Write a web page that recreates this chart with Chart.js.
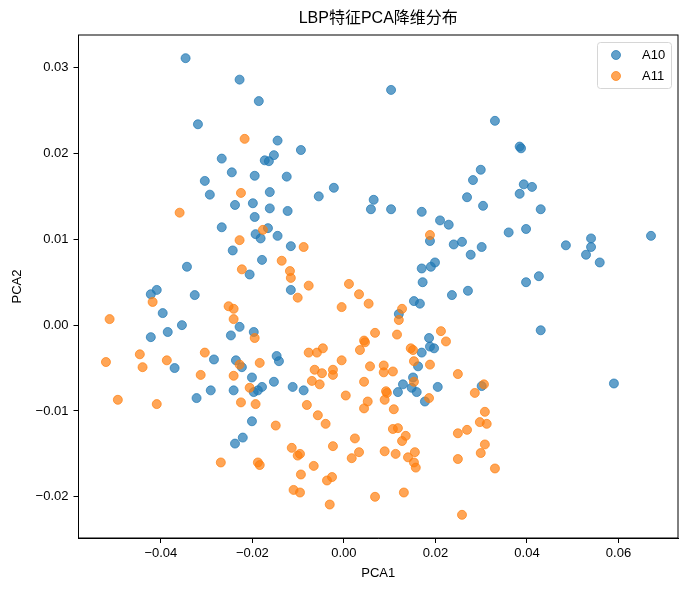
<!DOCTYPE html>
<html lang="zh">
<head>
  <meta charset="UTF-8">
  <title>LBP特征PCA降维分布</title>
  <script src="https://cdn.jsdelivr.net/npm/chart.js"></script>
  <style>
    body { margin: 0; background: #fff; }
    canvas { display: block; }
  </style>
</head>
<body>
  <canvas id="pcaChart" width="692" height="593"></canvas>

  <script>
    // values
    const seriesNames = ['A10', 'A11'];

    const a10X = [-0.0346, -0.0228, -0.0186, -0.0319, -0.0145, -0.0153, -0.0267, -0.0173, -0.0164, -0.0245,
      -0.0195, -0.0304, -0.0162, -0.0293, -0.0238, -0.0199, -0.0162, -0.0195, -0.0267, -0.0166,
      -0.0193, -0.0182, -0.0145, -0.0243, -0.0179, -0.0343, -0.0206, 0.0103, -0.0094, -0.0125,
      -0.0055, -0.0022, -0.0123, 0.0065, 0.0059, 0.0103, 0.0170, 0.0210, 0.0229, 0.0269,
      -0.0116, 0.0188, 0.0240, 0.0258, 0.0277, 0.0170, 0.0190, 0.0199, 0.0172, 0.0330,
      0.0384, 0.0387, 0.0299, 0.0282, 0.0393, 0.0411, 0.0384, 0.0304, 0.0430, 0.0360,
      0.0398, 0.0301, 0.0485, 0.0540, 0.0540, 0.0529, 0.0559, 0.0671, 0.0426, 0.0398,
      -0.0409, -0.0422, -0.0326, -0.0396, -0.0354, -0.0385, -0.0228, -0.0247, -0.0422, -0.0197,
      -0.0284, -0.0370, -0.0236, -0.0223, -0.0147, -0.0142, -0.0201, -0.0153, -0.0241, -0.0291,
      -0.0322, -0.0197, -0.0188, -0.0179, -0.0201, -0.0221, -0.0238, -0.0116, 0.0236, 0.0271,
      0.0153, 0.0166, 0.0120, 0.0186, 0.0188, 0.0197, 0.0170, 0.0162, -0.0112, -0.0088,
      0.0151, 0.0129, 0.0148, 0.0159, 0.0118, 0.0205, 0.0177, 0.0430, 0.0590, 0.0301];
    const a10Y = [0.0311, 0.0286, 0.0261, 0.0234, 0.0215, 0.0198, 0.0194, 0.0192, 0.0191, 0.0178,
      0.0174, 0.0168, 0.0155, 0.0152, 0.0140, 0.0142, 0.0136, 0.0126, 0.0114, 0.0113,
      0.0106, 0.0101, 0.0104, 0.0087, 0.0076, 0.0068, 0.0059, 0.0274, 0.0204, 0.0173,
      0.0150, 0.0160, 0.0133, 0.0146, 0.0135, 0.0135, 0.0132, 0.0122, 0.0117, 0.0149,
      0.0092, 0.0098, 0.0094, 0.0097, 0.0082, 0.0066, 0.0068, 0.0073, 0.0050, 0.0238,
      0.0208, 0.0206, 0.0181, 0.0169, 0.0164, 0.0161, 0.0153, 0.0139, 0.0135, 0.0108,
      0.0112, 0.0091, 0.0093, 0.0101, 0.0091, 0.0082, 0.0073, 0.0104, 0.0057, 0.0050,
      0.0041, 0.0036, 0.0035, 0.0014, 0.0000, -0.0008, -0.0002, -0.0012, -0.0014, -0.0008,
      -0.0040, -0.0050, -0.0041, -0.0049, -0.0036, -0.0042, -0.0061, -0.0066, -0.0076, -0.0076,
      -0.0085, -0.0078, -0.0076, -0.0072, -0.0112, -0.0131, -0.0138, 0.0041, 0.0035, 0.0040,
      0.0028, 0.0025, 0.0013, -0.0015, -0.0025, -0.0027, -0.0032, -0.0048, -0.0072, -0.0076,
      -0.0061, -0.0069, -0.0073, -0.0078, -0.0078, -0.0072, -0.0089, -0.0006, -0.0068, -0.0071];

    const a11X = [-0.0217, -0.0225, -0.0359, -0.0177, -0.0228, -0.0223, -0.0136, -0.0088, 0.0188, -0.0118,
      -0.0116, -0.0077, 0.0011, -0.0418, -0.0252, -0.0241, -0.0512, -0.0241, -0.0195, -0.0446,
      -0.0304, -0.0520, -0.0387, -0.0440, -0.0228, -0.0184, -0.0313, -0.0241, -0.0206, -0.0494,
      -0.0409, -0.0225, -0.0193, -0.0149, -0.0269, -0.0188, -0.0184, -0.0101, 0.0033, 0.0054,
      -0.0005, 0.0127, 0.0120, 0.0068, 0.0116, 0.0044, 0.0046, 0.0035, 0.0212, 0.0223,
      0.0146, 0.0151, 0.0153, 0.0188, -0.0077, -0.0059, -0.0046, -0.0005, 0.0057, 0.0087,
      0.0087, 0.0107, -0.0064, -0.0048, -0.0024, -0.0024, -0.0070, -0.0053, 0.0044, 0.0153,
      0.0092, 0.0094, 0.0004, 0.0052, 0.0089, 0.0044, 0.0109, 0.0186, -0.0081, -0.0057,
      -0.0040, 0.0249, 0.0107, 0.0118, 0.0135, 0.0127, 0.0024, -0.0024, -0.0114, -0.0101,
      -0.0096, 0.0033, 0.0017, 0.0089, 0.0113, 0.0155, 0.0140, 0.0153, 0.0157, 0.0249,
      0.0269, 0.0249, -0.0066, -0.0094, -0.0037, -0.0026, -0.0110, -0.0096, -0.0031, 0.0068,
      0.0131, 0.0258, 0.0306, 0.0286, 0.0308, 0.0297, 0.0312, 0.0308, 0.0299, 0.0330];
    const a11Y = [0.0217, 0.0154, 0.0131, 0.0111, 0.0099, 0.0065, 0.0075, 0.0091, 0.0105, 0.0063,
      0.0055, 0.0046, 0.0048, 0.0027, 0.0022, 0.0019, 0.0007, 0.0007, -0.0015, -0.0034,
      -0.0032, -0.0043, -0.0041, -0.0049, -0.0046, -0.0044, -0.0058, -0.0059, -0.0073, -0.0087,
      -0.0092, -0.0090, -0.0092, -0.0117, -0.0160, -0.0160, -0.0163, 0.0032, 0.0036, 0.0025,
      0.0021, 0.0019, 0.0006, -0.0009, -0.0011, -0.0018, -0.0020, -0.0029, -0.0007, -0.0019,
      -0.0027, -0.0029, -0.0042, -0.0046, -0.0032, -0.0032, -0.0027, -0.0041, -0.0048, -0.0047,
      -0.0055, -0.0054, -0.0052, -0.0056, -0.0052, -0.0058, -0.0065, -0.0069, -0.0066, -0.0066,
      -0.0077, -0.0079, -0.0082, -0.0089, -0.0087, -0.0097, -0.0098, -0.0085, -0.0093, -0.0105,
      -0.0115, -0.0057, -0.0121, -0.0120, -0.0129, -0.0135, -0.0132, -0.0141, -0.0143, -0.0152,
      -0.0150, -0.0148, -0.0155, -0.0147, -0.0150, -0.0148, -0.0154, -0.0160, -0.0166, -0.0126,
      -0.0122, -0.0156, -0.0164, -0.0174, -0.0181, -0.0177, -0.0192, -0.0195, -0.0209, -0.0200,
      -0.0195, -0.0221, -0.0069, -0.0079, -0.0101, -0.0113, -0.0115, -0.0139, -0.0149, -0.0167];

    const xTicks = [-0.04, -0.02, 0.00, 0.02, 0.04, 0.06];
    const yTicks = [-0.02, -0.01, 0.00, 0.01, 0.02, 0.03];
    const xLimits = [-0.0580, 0.0730];
    const yLimits = [-0.0248, 0.0338];

    const FONT = "'Liberation Sans', 'Noto Sans CJK SC', sans-serif";

    function toPoints(xs, ys) {
      return xs.map((x, i) => ({ x: x, y: ys[i] }));
    }

    // matplotlib style labels, with a real minus sign
    function fmtTick(v) {
      const s = Math.abs(v).toFixed(2);
      return v < -1e-9 ? '\u2212' + s : s;
    }

    // axes frame on all four sides + legend box inside the plot, top right
    const frameAndLegend = {
      id: 'frameAndLegend',
      afterDraw(chart) {
        const { ctx, chartArea: a } = chart;
        ctx.save();
        ctx.strokeStyle = '#000';
        ctx.lineWidth = 1;
        ctx.strokeRect(a.left, a.top, a.right - a.left, a.bottom - a.top);

        const w = 74, h = 46;
        const bx = a.right - 7 - w, by = a.top + 7;
        ctx.beginPath();
        ctx.roundRect(bx + 0.5, by + 0.5, w, h, 3);
        ctx.fillStyle = 'rgba(255,255,255,0.8)';
        ctx.fill();
        ctx.strokeStyle = '#d6d6d6';
        ctx.stroke();

        ctx.font = '13px ' + FONT;
        ctx.textBaseline = 'middle';
        ctx.textAlign = 'left';
        chart.data.datasets.forEach((ds, i) => {
          const cy = by + 13 + i * 21;
          ctx.beginPath();
          ctx.arc(bx + 19, cy, 4.5, 0, Math.PI * 2);
          ctx.fillStyle = ds.backgroundColor;
          ctx.fill();
          ctx.strokeStyle = ds.borderColor;
          ctx.stroke();
          ctx.fillStyle = '#000';
          ctx.fillText(ds.label, bx + 45, cy);
        });
        ctx.restore();
      }
    };

    const ctx = document.getElementById('pcaChart').getContext('2d');
    new Chart(ctx, {
      type: 'scatter',
      data: {
        datasets: [{
          label: seriesNames[0],
          data: toPoints(a10X, a10Y),
          backgroundColor: 'rgba(31,119,180,0.7)',
          borderColor: 'rgba(31,119,180,0.7)',
          borderWidth: 1,
          pointRadius: 4.5,
          order: 1
        }, {
          label: seriesNames[1],
          data: toPoints(a11X, a11Y),
          backgroundColor: 'rgba(255,127,14,0.7)',
          borderColor: 'rgba(255,127,14,0.7)',
          borderWidth: 1,
          pointRadius: 4.5,
          order: 0
        }]
      },
      options: {
        responsive: false,
        animation: false,
        layout: { padding: { left: 0, right: 14, top: 0, bottom: 0 } },
        plugins: {
          legend: { display: false },
          tooltip: { enabled: false },
          title: {
            display: true,
            text: 'LBP特征PCA降维分布',
            color: '#000',
            fullSize: false,
            font: { family: FONT, size: 16, weight: 'normal' },
            padding: { top: 9.4, bottom: 6.4 }
          }
        },
        scales: {
          x: {
            type: 'linear',
            min: xLimits[0],
            max: xLimits[1],
            afterBuildTicks: s => { s.ticks = xTicks.map(v => ({ value: v })); },
            afterFit: s => { s.height = 55; },
            grid: { display: true, drawOnChartArea: false, drawTicks: true, tickLength: 5, color: '#000' },
            border: { display: true, color: '#000' },
            ticks: {
              color: '#000',
              font: { family: FONT, size: 13 },
              padding: 2.5,
              maxRotation: 0,
              autoSkip: false,
              callback: v => fmtTick(v)
            },
            title: {
              display: true,
              text: 'PCA1',
              color: '#000',
              font: { family: FONT, size: 13 },
              padding: { top: 0, bottom: 11.5 }
            }
          },
          y: {
            type: 'linear',
            min: yLimits[0],
            max: yLimits[1],
            afterBuildTicks: s => { s.ticks = yTicks.map(v => ({ value: v })); },
            afterFit: s => { s.width = 78.5; },
            grid: { display: true, drawOnChartArea: false, drawTicks: true, tickLength: 5, color: '#000' },
            border: { display: true, color: '#000' },
            ticks: {
              color: '#000',
              font: { family: FONT, size: 13 },
              padding: 5,
              autoSkip: false,
              callback: v => fmtTick(v)
            },
            title: {
              display: true,
              text: 'PCA2',
              color: '#000',
              font: { family: FONT, size: 13 },
              padding: { top: 10, bottom: 0 }
            }
          }
        }
      },
      plugins: [frameAndLegend]
    });
  </script>
</body>
</html>
